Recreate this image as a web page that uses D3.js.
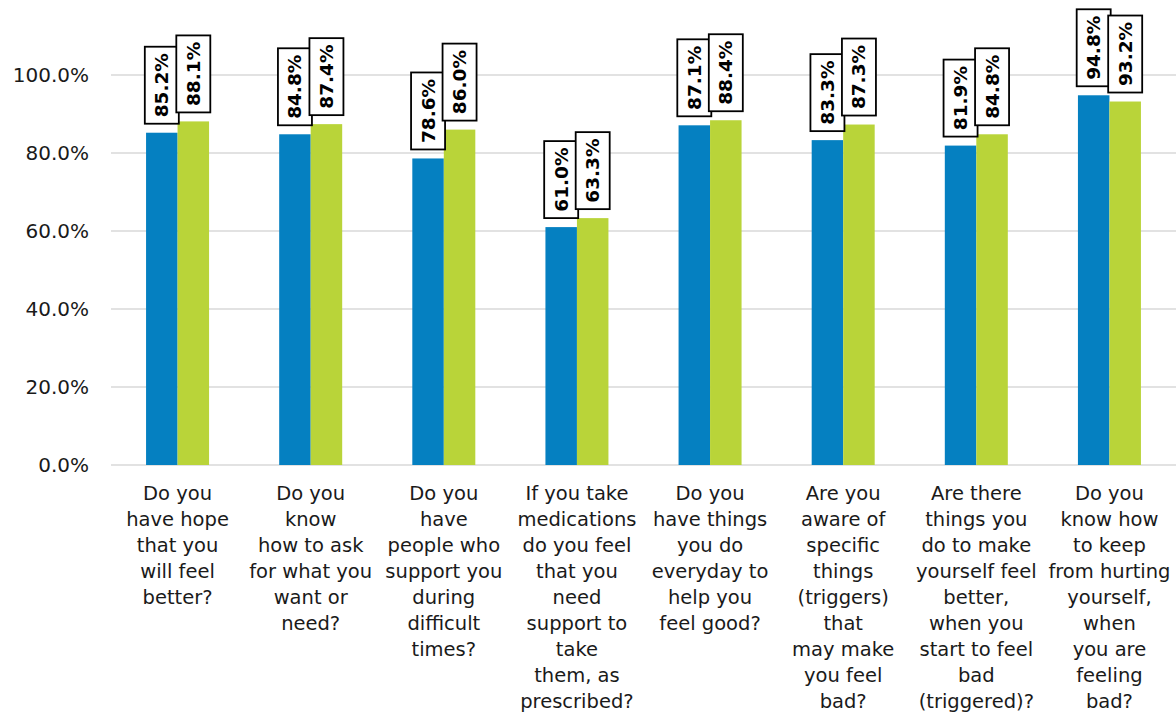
<!DOCTYPE html>
<html><head><meta charset="utf-8">
<script src="https://cdn.jsdelivr.net/npm/d3@7"></script>
<style>body{margin:0;background:#fff}svg{display:block}</style>
</head><body><svg id="c" width="1176" height="715"></svg>
<script>
const categories = [
  ["Do you","have hope","that you","will feel","better?"],
  ["Do you","know","how to ask","for what you","want or","need?"],
  ["Do you","have","people who","support you","during","difficult","times?"],
  ["If you take","medications","do you feel","that you","need","support to","take","them, as","prescribed?"],
  ["Do you","have things","you do","everyday to","help you","feel good?"],
  ["Are you","aware of","specific","things","(triggers)","that","may make","you feel","bad?"],
  ["Are there","things you","do to make","yourself feel","better,","when you","start to feel","bad","(triggered)?"],
  ["Do you","know how","to keep","from hurting","yourself,","when","you are","feeling","bad?"]
];
const seriesA = [85.2, 84.8, 78.6, 61.0, 87.1, 83.3, 81.9, 94.8];
const seriesB = [88.1, 87.4, 86.0, 63.3, 88.4, 87.3, 84.8, 93.2];
const yTicks = [0, 20, 40, 60, 80, 100];
const colors = ["#0580c1", "#b9d439"];

(function(){
const svg = d3.select("#c");
const mLeft = 111, mRight = 1176, mTop = 75, mBottom = 465;
const font = "'DejaVu Sans', sans-serif";

const x = d3.scaleBand().domain(d3.range(categories.length)).range([mLeft, mRight]).paddingInner(0).paddingOuter(0);
const y = d3.scaleLinear().domain([0, 100]).range([mBottom, mTop]);
const barW = 31.5;

svg.append("g").selectAll("line").data(yTicks).join("line")
  .attr("x1", mLeft).attr("x2", mRight)
  .attr("y1", d => y(d)).attr("y2", d => y(d))
  .attr("stroke", "#d9d9d9").attr("stroke-width", 1.3);

const yAxis = d3.axisLeft(y).tickValues(yTicks).tickFormat(d => d.toFixed(1) + "%").tickSize(0).tickPadding(22);
const ga = svg.append("g").attr("transform", `translate(${mLeft},0)`).call(yAxis);
ga.select(".domain").remove();
ga.selectAll("text").attr("font-family", font).attr("font-size", 20).attr("fill", "#1a1a1a");

const series = [seriesA, seriesB];
const gBars = svg.append("g");
series.forEach((vals, si) => {
  gBars.selectAll(null).data(vals).join("rect")
    .attr("x", (d, i) => x(i) + x.bandwidth() / 2 - barW + si * barW)
    .attr("width", barW)
    .attr("y", d => y(d))
    .attr("height", d => y(0) - y(d))
    .attr("fill", colors[si]);
});

const gLab = svg.append("g");
const boxW = 34, boxH = 77, gap = 9;
categories.forEach((c, i) => {
  series.forEach((vals, si) => {
    const v = vals[i];
    const cx = x(i) + x.bandwidth() / 2 - barW / 2 + si * barW;
    const by = y(v) - gap;
    const g = gLab.append("g");
    g.append("rect").attr("x", cx - boxW / 2).attr("y", by - boxH).attr("width", boxW).attr("height", boxH)
      .attr("fill", "#fff").attr("stroke", "#000").attr("stroke-width", 1.8);
    g.append("text").attr("transform", `translate(${cx},${by - boxH / 2}) rotate(-90)`)
      .attr("text-anchor", "middle").attr("dominant-baseline", "central")
      .attr("font-family", font).attr("font-weight", "bold").attr("font-size", 18.5).attr("fill", "#000")
      .text(v.toFixed(1) + "%");
  });
});

const gCat = svg.append("g");
categories.forEach((lines, i) => {
  const t = gCat.append("text").attr("text-anchor", "middle")
    .attr("font-family", font).attr("font-size", 19.5).attr("fill", "#1a1a1a");
  lines.forEach((ln, k) => {
    t.append("tspan").attr("x", x(i) + x.bandwidth() / 2).attr("y", 500 + k * 26).text(ln);
  });
});
})();
</script></body></html>
